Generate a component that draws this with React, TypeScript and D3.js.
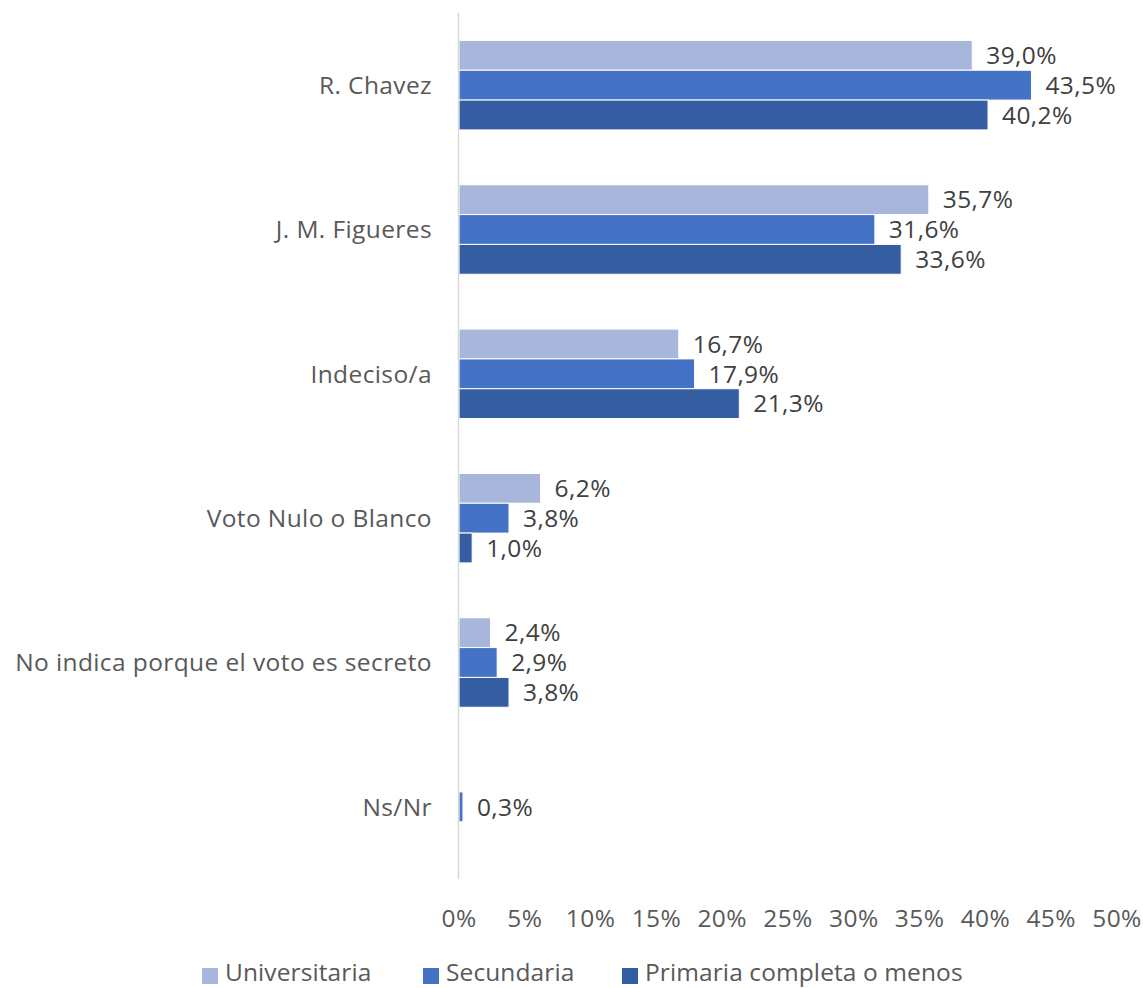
import React from "react";
import * as d3 from "d3";

const categories = ["R. Chavez", "J. M. Figueres", "Indeciso/a", "Voto Nulo o Blanco", "No indica porque el voto es secreto", "Ns/Nr"];
const seriesNames = ["Universitaria", "Secundaria", "Primaria completa o menos"];
const universitaria = [39.0, 35.7, 16.7, 6.2, 2.4, 0];
const secundaria = [43.5, 31.6, 17.9, 3.8, 2.9, 0.3];
const primaria = [40.2, 33.6, 21.3, 1.0, 3.8, 0];
const colors = ["#A9B6DC", "#4472C4", "#355EA2"];
const ticks = [0, 5, 10, 15, 20, 25, 30, 35, 40, 45, 50];

const W = 1143, H = 988;
const FONT = "'Open Sans', sans-serif";
const FS = 24.5;
const LS = 0.4;

export default function App() {
  const x = d3.scaleLinear().domain([0, 50]).range([459, 1117]);
  const y = d3.scaleBand<string>().domain(categories).range([13, 879]).paddingInner(0.38).paddingOuter(0.19);
  const inner = d3.scaleBand<string>().domain(seriesNames).range([0, y.bandwidth()]);
  const series = [universitaria, secundaria, primaria];
  const fmt = (v: number) => v.toFixed(1).replace(".", ",") + "%";
  const legendX = [202, 423, 622];
  return (
    <svg width={W} height={H} style={{ position: "absolute", left: 0, top: 0, background: "#fff" }} fontFamily={FONT} letterSpacing={LS}>
      {categories.map((c, ci) => (
        <g key={c}>
          {series.map((s, si) => {
            const v = s[ci];
            if (v === 0) return null;
            const yy = (y(c) as number) + (inner(seriesNames[si]) as number);
            return (
              <g key={si}>
                <rect x={x(0)} y={yy} width={x(v) - x(0)} height={inner.bandwidth()} fill={colors[si]} stroke="#fff" strokeWidth={1} />
                <text x={x(v) + 14} y={yy + inner.bandwidth() / 2} dy="0.36em" fontSize={FS} fill="#404040">{fmt(v)}</text>
              </g>
            );
          })}
          <text x={432} y={(y(c) as number) + y.bandwidth() / 2} dy="0.36em" textAnchor="end" fontSize={FS} fill="#595959">{c}</text>
        </g>
      ))}
      <line x1={458.5} x2={458.5} y1={13} y2={879} stroke="#D9D9D9" strokeWidth={1.5} />
      {ticks.map(t => (
        <text key={t} x={x(t)} y={918} dy="0.36em" textAnchor="middle" fontSize={FS} fill="#595959">{t}%</text>
      ))}
      {seriesNames.map((n, i) => (
        <g key={n}>
          <rect x={legendX[i]} y={968} width={16} height={16} fill={colors[i]} />
          <text x={legendX[i] + 23} y={981} fontSize={FS} letterSpacing={0.1} fill="#595959">{n}</text>
        </g>
      ))}
    </svg>
  );
}
